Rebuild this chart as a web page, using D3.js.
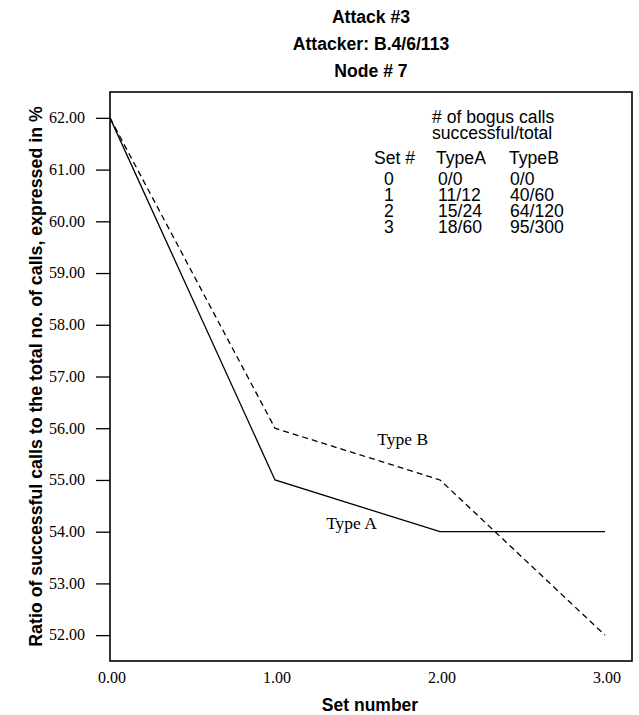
<!DOCTYPE html>
<html>
<head>
<meta charset="utf-8">
<script src="https://cdn.jsdelivr.net/npm/d3@7"></script>
<style>body{margin:0;background:#fff}</style>
</head>
<body>
<script>
// data
const setNumbers = [0, 1, 2, 3];
const typeA = [62, 55, 54, 54];
const typeB = [62, 56, 55, 52];
const yTicks = [52, 53, 54, 55, 56, 57, 58, 59, 60, 61, 62];
const xTicks = [0, 1, 2, 3];
const titleLines = ["Attack #3", "Attacker: B.4/6/113", "Node # 7"];
const legendTitle = ["# of bogus calls", "successful/total"];
const tableHead = ["Set #", "TypeA", "TypeB"];
const setIds = ["0", "1", "2", "3"];
const bogusA = ["0/0", "11/12", "15/24", "18/60"];
const bogusB = ["0/0", "40/60", "64/120", "95/300"];

const W = 639, H = 715;
const frameL = 110, frameR = 632, frameT = 92, frameB = 661;
const SANS = "'Liberation Sans', Arial, sans-serif";
const SERIF = "'Liberation Serif', 'Times New Roman', serif";
const fmt = d3.format(".2f");

const svg = d3.select("body").append("svg").attr("width", W).attr("height", H);

const x = d3.scaleLinear().domain([0, 3]).range([110, 605]);
const y = d3.scaleLinear().domain([51.5, 62.5]).range([frameB, frameT]);

function label(str, px, py, o) {
  return svg.append("text")
    .attr("transform", `translate(${px},${py})` + (o.rot ? ` rotate(${o.rot})` : ""))
    .attr("text-anchor", o.anchor || "start")
    .attr("fill", "#000")
    .style("font-family", o.family)
    .style("font-size", o.size + "px")
    .style("font-weight", o.weight || "normal")
    .text(str);
}

// titles
titleLines.forEach((t, i) => {
  label(t, 371, 23.3 + i * 27, {family: SANS, size: 17.6, weight: "bold", anchor: "middle"});
});

// frame
svg.append("rect")
  .attr("x", frameL).attr("y", frameT)
  .attr("width", frameR - frameL).attr("height", frameB - frameT)
  .attr("fill", "none").attr("stroke", "#000").attr("stroke-width", 1.6);

// y axis: tick marks from d3, labels placed off the same scale
const yAxis = svg.append("g").attr("transform", `translate(${frameL},0)`)
  .call(d3.axisLeft(y).tickValues(yTicks).tickSize(14).tickFormat(""));
yAxis.select(".domain").remove();
yAxis.selectAll("line").attr("stroke", "#000").attr("stroke-width", 1.3);
yTicks.forEach(d => label(fmt(d), frameL - 25, y(d) + 5.3,
  {family: SERIF, size: 16, anchor: "end"}));

// x axis labels
xTicks.forEach(d => label(fmt(d), x(d) + 2, 683,
  {family: SERIF, size: 16, anchor: "middle"}));

// axis titles
label("Set number", 370, 711, {family: SANS, size: 17.5, weight: "bold", anchor: "middle"});
label("Ratio of successful calls to the total no. of calls, expressed in %", 42, (frameT + frameB) / 2,
  {family: SANS, size: 17.8, weight: "bold", anchor: "middle", rot: -90});

// series
const line = d3.line().x((d, i) => x(setNumbers[i])).y(d => y(d));
svg.append("path").datum(typeA).attr("d", line)
  .attr("fill", "none").attr("stroke", "#000").attr("stroke-width", 1.3);
svg.append("path").datum(typeB).attr("d", line)
  .attr("fill", "none").attr("stroke", "#000").attr("stroke-width", 1.3)
  .attr("stroke-dasharray", "6,4");

// series labels
label("Type B", x(1.62), y(55.68), {family: SERIF, size: 17.5});
label("Type A", x(1.31), y(54.05), {family: SERIF, size: 17.5});

// legend table
const LS = 17.6;
legendTitle.forEach((t, i) => label(t, 432, 122.5 + i * 16.5, {family: SANS, size: LS}));
const colX = [374, 436, 509];
tableHead.forEach((t, i) => label(t, colX[i], 164, {family: SANS, size: LS}));
setIds.forEach((s, i) => {
  const ry = 184.5 + i * 16.2;
  label(s, 389, ry, {family: SANS, size: LS, anchor: "middle"});
  label(bogusA[i], 438, ry, {family: SANS, size: LS});
  label(bogusB[i], 510, ry, {family: SANS, size: LS});
});
</script>
</body>
</html>
